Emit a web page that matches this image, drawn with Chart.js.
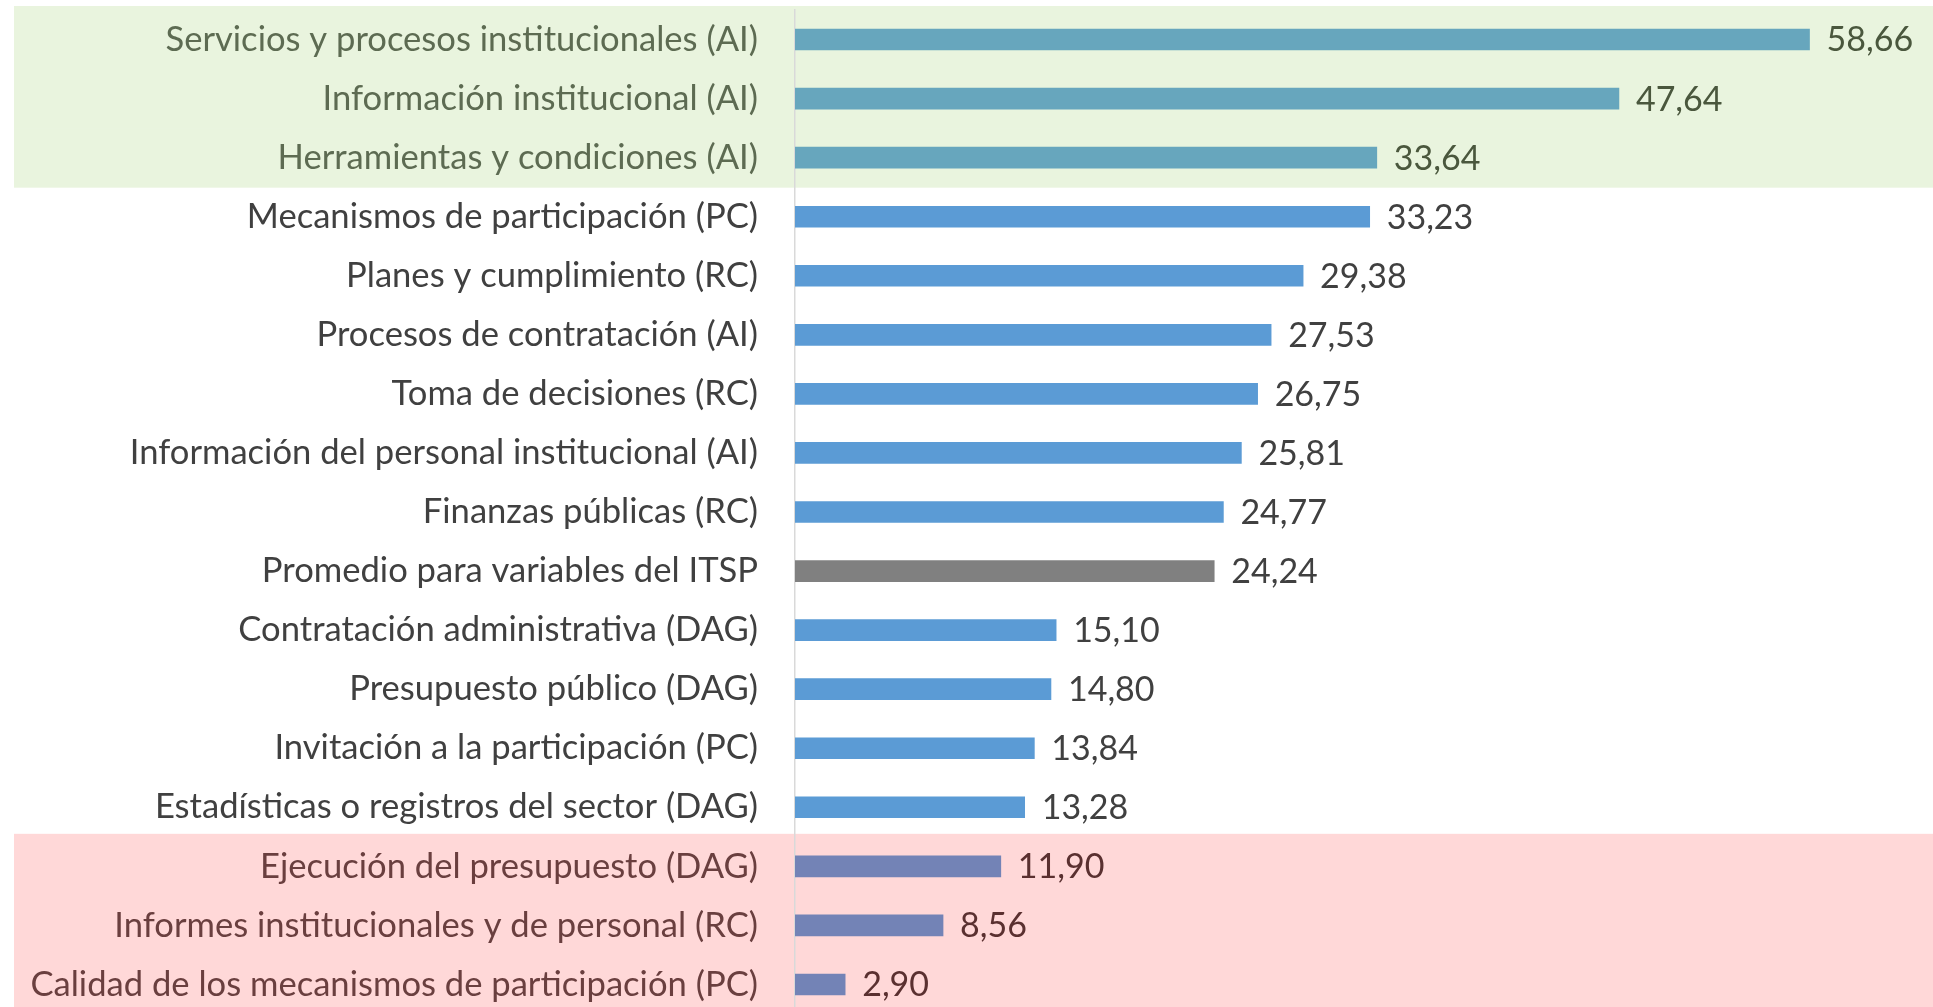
<!DOCTYPE html>
<html>
<head>
<meta charset="utf-8">
<script src="https://cdn.jsdelivr.net/npm/chart.js@4.4.1/dist/chart.umd.min.js"></script>
<style>
  html, body { margin: 0; padding: 0; background: #fff; overflow: hidden; }
  #wrap { position: relative; width: 1933px; height: 1014px; }
</style>
</head>
<body>
<div id="wrap"><canvas id="chart"></canvas></div>
<script>
// data
const categories = [
    'Servicios y procesos institucionales (AI)',
    'Información institucional (AI)',
    'Herramientas y condiciones (AI)',
    'Mecanismos de participación (PC)',
    'Planes y cumplimiento (RC)',
    'Procesos de contratación (AI)',
    'Toma de decisiones (RC)',
    'Información del personal institucional (AI)',
    'Finanzas públicas (RC)',
    'Promedio para variables del ITSP',
    'Contratación administrativa (DAG)',
    'Presupuesto público (DAG)',
    'Invitación a la participación (PC)',
    'Estadísticas o registros del sector (DAG)',
    'Ejecución del presupuesto (DAG)',
    'Informes institucionales y de personal (RC)',
    'Calidad de los mecanismos de participación (PC)'
];
const values = [58.66, 47.64, 33.64, 33.23, 29.38, 27.53, 26.75, 25.81, 24.77, 24.24, 15.10, 14.80, 13.84, 13.28, 11.90, 8.56, 2.90];
// group of each row: top = highlighted best, avg = average row, low = highlighted worst
const groups = ['top', 'top', 'top', 'mid', 'mid', 'mid', 'mid', 'mid', 'mid', 'avg', 'mid', 'mid', 'mid', 'mid', 'low', 'low', 'low'];

const THEME = {
    top: { bar: '#67a6bd', label: '#5d6b52', value: '#4a573d', band: '#e9f4de' },
    mid: { bar: '#5b9bd5', label: '#404040', value: '#404040', band: null },
    avg: { bar: '#808080', label: '#404040', value: '#404040', band: null },
    low: { bar: '#7383b6', label: '#6a3f3f', value: '#5a3030', band: '#ffd8d8' }
};
const LABEL_FONT = { family: 'Lato', size: 34.6 };
const VALUE_FONT = { family: 'Lato', size: 34 };

// coloured row bands, painted before the axis so the labels stay on top
const bandsPlugin = {
    id: 'bands',
    beforeDraw(chart) {
        const { ctx, scales: { y } } = chart;
        const step = y.height / categories.length;
        ctx.save();
        groups.forEach((g, i) => {
            const fill = THEME[g].band;
            if (!fill) return;
            const c = y.getPixelForValue(i);
            const top = c - step / 2 - (i === 0 ? 4 : 0) - (i > 0 && groups[i - 1] !== g ? 3 : 0);
            ctx.fillStyle = fill;
            ctx.fillRect(14, top, chart.width - 14, c + step / 2 - top + 0.5);
        });
        ctx.restore();
    }
};

const valuePlugin = {
    id: 'values',
    afterDatasetsDraw(chart) {
        const { ctx } = chart;
        const meta = chart.getDatasetMeta(0);
        ctx.save();
        ctx.font = `${VALUE_FONT.size}px ${VALUE_FONT.family}`;
        ctx.textAlign = 'left';
        ctx.textBaseline = 'middle';
        meta.data.forEach((bar, i) => {
            ctx.fillStyle = THEME[groups[i]].value;
            ctx.fillText(values[i].toFixed(2).replace('.', ','), bar.x + 17, bar.y + 1);
        });
        ctx.restore();
    }
};

new Chart(document.getElementById('chart'), {
    type: 'bar',
    data: {
        labels: categories,
        datasets: [{
            data: values,
            backgroundColor: groups.map(g => THEME[g].bar),
            barThickness: 21,
            borderWidth: 0
        }]
    },
    options: {
        indexAxis: 'y',
        responsive: true,
        maintainAspectRatio: false,
        animation: false,
        layout: { padding: { top: 10, left: 0, right: 0, bottom: 0 } },
        plugins: { legend: { display: false }, tooltip: { enabled: false } },
        scales: {
            x: { display: false, min: 0, max: 65.8 },
            y: {
                afterFit(scale) {
                    scale.width = 795;
                    scale.paddingTop = 0;
                    scale.paddingBottom = 0;
                },
                grid: { display: false, drawTicks: false },
                border: { display: true, color: '#d9d9d9', width: 1.5 },
                ticks: {
                    autoSkip: false,
                    padding: 37,
                    font: LABEL_FONT,
                    color: c => THEME[groups[c.index]].label
                }
            }
        }
    },
    plugins: [bandsPlugin, valuePlugin]
});
</script>
</body>
</html>
